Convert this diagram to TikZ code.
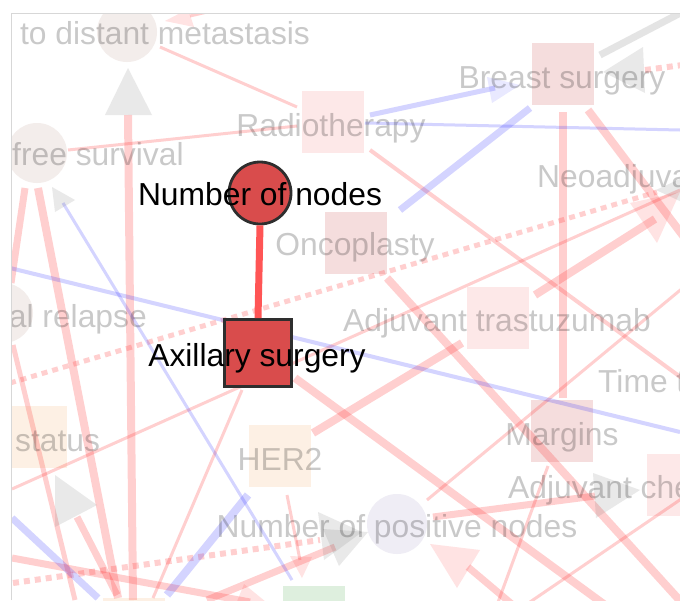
\documentclass[tikz,border=0pt]{standalone}
\usepackage{fontspec}
\setmainfont{Liberation Sans}
\definecolor{pk}{RGB}{255,40,40}
\definecolor{bl}{RGB}{40,40,255}
\definecolor{gy}{RGB}{110,110,110}
\definecolor{hired}{RGB}{217,76,76}
\definecolor{hiedge}{RGB}{255,85,85}
\definecolor{framec}{RGB}{215,215,215}
\definecolor{fcirc}{RGB}{243,237,235}
\definecolor{flav}{RGB}{239,237,245}
\definecolor{fpink}{RGB}{253,232,232}
\definecolor{fpinkd}{RGB}{245,221,221}
\definecolor{fpeach}{RGB}{253,240,228}
\definecolor{fgreen}{RGB}{222,239,222}
\tikzset{
  lbl/.style={font=\fontsize{31.8}{38}\selectfont, inner sep=0pt, anchor=base},
  faded/.style={lbl, text=black, text opacity=0.21},
  strong/.style={lbl, text=black},
  pe/.style={draw=pk, draw opacity=0.22, line width=#1},
  be/.style={draw=bl, draw opacity=0.2, line width=#1},
  pdot/.style={draw=pk, draw opacity=0.22, line width=#1, dash pattern=on 6pt off 5pt},
  ge/.style={draw=gy, draw opacity=0.18, line width=#1},
  gtip/.style={fill=gy, fill opacity=0.15},
  ptip/.style={fill=pk, fill opacity=0.13},
  btip/.style={fill=bl, fill opacity=0.1},
  fsq/.style={rectangle, minimum size=62pt, inner sep=0pt, fill=#1},
  fci/.style={circle, minimum size=60pt, inner sep=0pt, fill=#1},
}
\begin{document}
\begin{tikzpicture}[x=1pt,y=-1pt]
\useasboundingbox (0,0) rectangle (680,600);
\fill[white] (0,0) rectangle (680,600);
\begin{scope}
\clip (11,13) rectangle (680,600);
% faded nodes
\node[fci=fcirc] (nA) at (127,32) {};
\node[fci=fcirc] (nB) at (37,153) {};
\node[fci=fcirc] (nG) at (3,313) {};
\node[fci=flav] (nM) at (397,524) {};
\node[fsq=fpink] (nC) at (333,122) {};
\node[fsq=fpinkd] (nD) at (563,74) {};
\node[fsq=fpinkd] (nF) at (356,243) {};
\node[fsq=fpink] (nH) at (498,318) {};
\node[fsq=fpeach] (nJ) at (36,437) {};
\node[fsq=fpeach] (nK) at (280,456) {};
\node[fsq=fpinkd] (nL) at (562,431) {};
\node[fsq=fpink] (nN) at (678,485) {};
\node[fsq=fgreen] (nO) at (314,617) {};
\node[fsq=fpeach] (nP) at (134,629) {};
% pink edges
\draw[pe=3pt] (160,47) -- (297,107);
\draw[pe=3pt] (297,126) -- (68,150);
\draw[pe=3pt] (190,16) -- (280,-5);
\fill[ptip] (165,21) -- (188,9) -- (194,27) -- cycle;
\draw[pe=8pt] (133,600) -- (128,115);
\fill[gtip] (128,68) -- (152,115) -- (105,115) -- cycle;
\draw[pe=8pt] (38,188) -- (118,598);
\draw[pe=7pt] (25,188) -- (11,283);
\draw[pe=5pt] (13,345) -- (75,600);
\draw[pe=3pt] (12,489) -- (680,190);
\draw[pe=8pt] (535,295) -- (655,219);
\fill[ptip] (680,192) -- (630,203) -- (657,243) -- cycle;
\draw[pe=8pt] (563,112) -- (563,398);
\draw[pe=8pt] (588,110) -- (690,245);
\draw[pe=4pt] (370,150) -- (690,384);
\draw[pdot=5pt] (10,383) -- (657,192);
\draw[pdot=6pt] (13,583) -- (320,540);
\draw[pe=3pt] (287,495) -- (300,560);
\fill[ptip] (302,578) -- (290,556) -- (312,557) -- cycle;
\draw[pe=3pt] (242,390) -- (153,598);
\draw[pe=8pt] (295,378) -- (605,605);
\draw[pe=8pt] (313,433) -- (462,343);
\draw[pe=8pt] (387,278) -- (683,604);
\draw[pe=3pt] (427,500) -- (690,282);
\draw[pe=3pt] (548,466) -- (497,605);
\draw[pe=3pt] (530,602) -- (690,493);
\draw[pe=7pt] (433,517) -- (595,496);
\fill[gtip] (640,490) -- (593,473) -- (596,518) -- cycle;
\draw[pe=7pt] (513,605) -- (468,567);
\fill[ptip] (430,544) -- (480,550) -- (457,588) -- cycle;
\draw[pe=7pt] (12,558) -- (250,602);
\fill[ptip] (244,584) -- (266,602) -- (236,604) -- cycle;
\draw[pe=7pt] (207,600) -- (335,547);
\draw[pe=7pt] (77,517) -- (117,595);
\fill[gtip] (97,505) -- (55,475) -- (55,527) -- cycle;
% blue edges
\draw[be=3pt] (63,203) -- (292,580);
\fill[gtip] (52,187) -- (75,200) -- (55,212) -- cycle;
\draw[be=4pt] (10,268) -- (680,432);
\draw[be=3pt] (365,123) -- (680,130);
\draw[be=5pt] (370,115) -- (495,88);
\fill[btip] (520,85) -- (487,77) -- (492,103) -- cycle;
\draw[be=7pt] (400,210) -- (530,108);
\draw[be=8pt] (167,595) -- (248,495);
\draw[be=7pt] (12,518) -- (98,598);
% grey edges and tips
\draw[ge=7pt] (600,55) -- (690,8);
\fill[gtip] (603,72) -- (643,47) -- (645,93) -- cycle;
\draw[pdot=6pt] (645,70) -- (690,64);
\fill[gtip] (656,190) -- (682,178) -- (682,202) -- cycle;
\fill[gtip] (362,532) -- (318,512) -- (324,560) -- cycle;
\fill[gtip] (368,532) -- (323,529) -- (339,566) -- cycle;
% faded labels
\node[faded] (tA) at (165,44) {to distant metastasis};
\node[faded, anchor=base west] (tB) at (12,165) {free survival};
\node[faded] (tC) at (331,136) {Radiotherapy};
\node[faded] (tD) at (562,88) {Breast surgery};
\node[faded, anchor=base west] (tE) at (537,187) {Neoadjuvant};
\node[faded] (tF) at (355,255) {Oncoplasty};
\node[faded, anchor=base east] (tG) at (147,327) {cal relapse};
\node[faded] (tH) at (497,331) {Adjuvant trastuzumab};
\node[faded, anchor=base west] (tI) at (598,392) {Time to};
\node[faded, anchor=base west] (tJ) at (15,451) {status};
\node[faded] (tK) at (280,470) {HER2};
\node[faded] (tL) at (562,445) {Margins};
\node[faded, anchor=base west] (tN) at (508,498) {Adjuvant chemotherapy};
\node[faded] (tM) at (397,537) {Number of positive nodes};
\end{scope}
\draw[framec, line width=1pt] (11,600) -- (11,13) -- (680,13);
% highlighted nodes
\node[circle, minimum size=62pt, inner sep=0pt, fill=hired, draw=black!82, line width=2.8pt] (nodes) at (260,193) {};
\node[rectangle, minimum size=67pt, inner sep=0pt, fill=hired, draw=black!82, line width=2.8pt] (axil) at (258,353) {};
\draw[hiedge, line width=7pt] (nodes.south) -- (axil.north);
\node[strong] (tnodes) at (260,205) {Number of nodes};
\node[strong] (taxil) at (257,366) {Axillary surgery};
\end{tikzpicture}
\end{document}
